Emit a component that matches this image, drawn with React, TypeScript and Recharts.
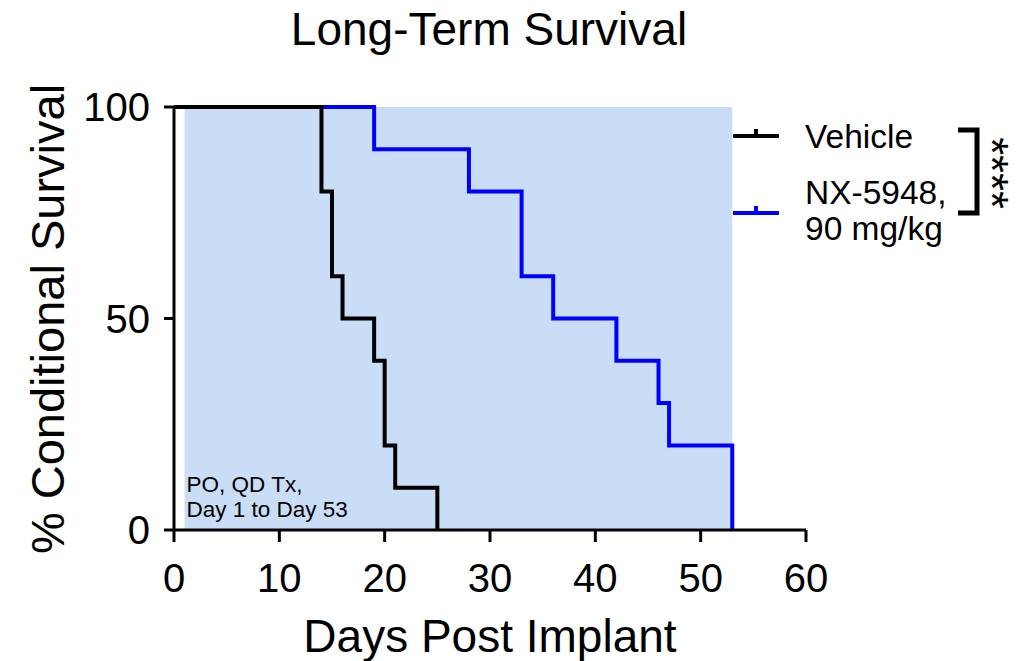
import { ComposedChart, Line, XAxis, YAxis, ReferenceArea } from "recharts"

// Kaplan-Meier steps: day of each event and survival (%) after it
const vehicleDays = [0, 14, 15, 16, 19, 20, 21, 25]
const vehicleSurvival = [100, 80, 60, 50, 40, 20, 10, 0]
const nxDays = [0, 19, 28, 33, 36, 42, 46, 47, 53]
const nxSurvival = [100, 90, 80, 60, 50, 40, 30, 20, 0]

const xTicks = [0, 10, 20, 30, 40, 50, 60]
const yTicks = [0, 50, 100]

// dosing window
const txStart = 1
const txEnd = 53

const FONT = "'Liberation Sans', Arial, Helvetica, sans-serif"

const vehicleData = vehicleDays.map((day, i) => ({ day, survival: vehicleSurvival[i] }))
const nxData = nxDays.map((day, i) => ({ day, survival: nxSurvival[i] }))

const TxLabel = (props: any) => {
  const vb = props.viewBox || {}
  const x = vb.x + 2
  const bottom = vb.y + vb.height
  return (
    <text x={x} fontSize={22.5} fontFamily={FONT} fill="#000">
      <tspan x={x} y={bottom - 38}>PO, QD Tx,</tspan>
      <tspan x={x} y={bottom - 13}>Day 1 to Day 53</tspan>
    </text>
  )
}

function LegendOverlay() {
  return (
    <svg
      width={1030}
      height={661}
      style={{ position: "absolute", left: 0, top: 0, pointerEvents: "none" }}
      fontFamily={FONT}
    >
      <text x={489} y={45} fontSize={46} textAnchor="middle" fill="#000">
        Long-Term Survival
      </text>
      <text
        x={64}
        y={319}
        fontSize={47}
        textAnchor="middle"
        fill="#000"
        transform="rotate(-90 64 319)"
      >
        % Conditional Survival
      </text>

      {/* legend entries */}
      <line x1={733} y1={136} x2={779} y2={136} stroke="#000" strokeWidth={4} />
      <line x1={756} y1={136} x2={756} y2={129} stroke="#000" strokeWidth={4} />
      <text x={805} y={148} fontSize={33.5} fill="#000">Vehicle</text>

      <line x1={733} y1={213} x2={779} y2={213} stroke="#0000ff" strokeWidth={4} />
      <line x1={756} y1={213} x2={756} y2={206} stroke="#0000ff" strokeWidth={4} />
      <text x={805} y={204} fontSize={33.5} fill="#000">NX-5948,</text>
      <text x={805} y={240} fontSize={33.5} fill="#000">90 mg/kg</text>

      {/* significance bracket */}
      <path d="M958 130 H977 V213 H958" fill="none" stroke="#000" strokeWidth={5} />
      <text
        x={992}
        y={173}
        fontSize={46}
        textAnchor="middle"
        dominantBaseline="central"
        fill="#000"
        transform="rotate(90 992 173)"
      >
        ****
      </text>
    </svg>
  )
}

export default function App() {
  return (
    <div style={{ position: "absolute", left: 0, top: 0, width: 1030, height: 661, background: "#fff" }}>
      <ComposedChart
        width={1030}
        height={661}
        margin={{ top: 107, right: 224, bottom: 0, left: 0 }}
        style={{ fontFamily: FONT }}
      >
        <ReferenceArea
          x1={txStart}
          x2={txEnd}
          y1={0}
          y2={100}
          fill="#c9ddf6"
          fillOpacity={1}
          stroke="none"
          label={TxLabel}
        />
        <XAxis
          dataKey="day"
          type="number"
          domain={[0, 60]}
          ticks={xTicks}
          allowDataOverflow
          height={131}
          axisLine={{ stroke: "#000", strokeWidth: 3 }}
          tickLine={{ stroke: "#000", strokeWidth: 3 }}
          tickSize={12}
          tickMargin={22}
          tick={{ fontSize: 40, fill: "#000" }}
          label={{ value: "Days Post Implant", position: "insideBottom", offset: 9, fontSize: 46, fill: "#000" }}
        />
        <YAxis
          type="number"
          domain={[0, 100]}
          ticks={yTicks}
          width={174}
          axisLine={{ stroke: "#000", strokeWidth: 3 }}
          tickLine={{ stroke: "#000", strokeWidth: 3 }}
          tickSize={10}
          tickMargin={14}
          tick={{ fontSize: 40, fill: "#000" }}
        />
        <Line
          data={nxData}
          dataKey="survival"
          type="stepAfter"
          stroke="#0000ff"
          strokeWidth={4}
          strokeLinejoin="miter"
          dot={false}
          isAnimationActive={false}
        />
        <Line
          data={vehicleData}
          dataKey="survival"
          type="stepAfter"
          stroke="#000"
          strokeWidth={4}
          strokeLinejoin="miter"
          dot={false}
          isAnimationActive={false}
        />
      </ComposedChart>
      <LegendOverlay />
    </div>
  )
}
